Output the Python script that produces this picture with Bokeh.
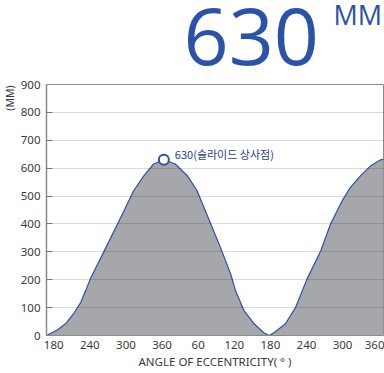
import math
from bokeh.plotting import figure
from bokeh.layouts import column, row
from bokeh.models import ColumnDataSource, Label, FixedTicker, Range1d
from bokeh.embed import file_html
from bokeh.resources import INLINE

# ---- data ----
angle_deg = [168, 186, 200, 213, 225, 233, 241, 263, 286, 296, 313, 330, 346, 363,
             382, 402, 418, 441, 457, 474, 482, 496, 513, 529, 538, 546, 565, 582,
             601, 624, 640, 660, 673, 690, 707, 723, 728]
stroke_mm = [0, 20, 43, 78, 119, 161, 204, 299, 400, 444, 520, 573, 615, 630,
             615, 573, 520, 400, 316, 221, 161, 90, 42, 10, 0, 10, 42, 101,
             203, 305, 400, 486, 531, 573, 609, 630, 632]
tick_pos = [180, 240, 300, 360, 420, 480, 540, 600, 660, 720]
tick_labels = ["180", "240", "300", "360", "60", "120", "180", "240", "300", "360"]
y_ticks = [0, 100, 200, 300, 400, 500, 600, 700, 800, 900]
peak_angle = [363]
peak_value = [630]
peak_text = "630(슬라이드 상사점)"
big_value = "630"
big_unit = "MM"
y_title = "(MM)"
x_title = "ANGLE OF ECCENTRICITY( ° )"

BLUE = "#2a52a8"
FILL = "#a6a7ab"
TXT = "#3a3a3a"
AX = "#8a8a8a"


def blank(w, h, xr, yr):
    f = figure(width=w, height=h, output_backend="svg", toolbar_location=None,
               x_axis_location=None, y_axis_location=None, min_border=0,
               x_range=xr, y_range=yr)
    f.grid.visible = False
    f.outline_line_color = None
    f.background_fill_color = "white"
    f.border_fill_color = "white"
    return f


# ---- headline (page-pixel coordinates, y downwards) ----
head = blank(384, 76, Range1d(0, 384), Range1d(76, 0))
head.add_layout(Label(x=183, y=36, text=big_value,
                      text_align="left", text_baseline="alphabetic",
                      text_font="Open Sans", text_font_size="79px", text_color=BLUE))
head.add_layout(Label(x=333, y=14, text=big_unit,
                      text_align="left", text_baseline="alphabetic",
                      text_font="Open Sans", text_font_size="27px", text_color=BLUE))

# ---- rotated y title strip ----
strip = blank(16, 297, Range1d(0, 16), Range1d(373, 76))
strip.add_layout(Label(x=9.5, y=107, text=y_title,
                       angle=math.pi / 2, text_align="left", text_baseline="middle",
                       text_font="Noto Sans", text_font_size="10.5px", text_color=TXT))

# ---- main chart ----
src = ColumnDataSource(dict(x=angle_deg, y=stroke_mm, y0=[0] * len(angle_deg)))

p = figure(width=368, height=297, output_backend="svg", toolbar_location=None,
           x_range=Range1d(168, 728), y_range=Range1d(0, 900),
           min_border_left=30, min_border_right=1, min_border_top=8, min_border_bottom=38)

p.varea(x="x", y1="y0", y2="y", source=src, fill_color=FILL)
p.line(x="x", y="y", source=src, line_color=BLUE, line_width=1.2)
p.scatter(x=peak_angle, y=peak_value, size=10, fill_color="white",
          line_color=BLUE, line_width=2)

p.add_layout(Label(x=peak_angle[0], y=peak_value[0], text=peak_text, x_offset=11, y_offset=6,
                   text_baseline="middle", text_font="Noto Sans CJK KR", text_font_size="11px",
                   text_color="#233f8f"))

p.xaxis.ticker = FixedTicker(ticks=tick_pos)
p.xaxis.major_label_overrides = {t: l for t, l in zip(tick_pos, tick_labels)}
p.xaxis.major_tick_line_color = None
p.xaxis.major_tick_out = 0
p.xaxis.major_tick_in = 0
p.xaxis.minor_tick_line_color = None
p.xaxis.minor_tick_out = 0
p.xaxis.axis_line_color = AX
p.xaxis.major_label_standoff = 5
p.xaxis.major_label_text_font = "Noto Sans"
p.xaxis.major_label_text_font_size = "11.5px"
p.xaxis.major_label_text_color = TXT
p.xaxis.axis_label = x_title
p.xaxis.axis_label_text_font = "Noto Sans"
p.xaxis.axis_label_text_font_size = "11.5px"
p.xaxis.axis_label_text_font_style = "normal"
p.xaxis.axis_label_text_color = TXT
p.xaxis.axis_label_standoff = 2

p.yaxis.ticker = FixedTicker(ticks=y_ticks)
p.yaxis.major_tick_in = 6
p.yaxis.major_tick_out = 0
p.yaxis.minor_tick_out = 0
p.yaxis.major_tick_line_color = AX
p.yaxis.minor_tick_line_color = None
p.yaxis.axis_line_color = AX
p.yaxis.axis_line_width = 1.5
p.yaxis.major_label_standoff = 6
p.yaxis.major_label_text_font = "Noto Sans"
p.yaxis.major_label_text_font_size = "11.5px"
p.yaxis.major_label_text_color = TXT

p.xgrid.grid_line_color = None
p.ygrid.grid_line_color = "black"
p.ygrid.grid_line_alpha = 0.14
p.ygrid.level = "overlay"

p.outline_line_color = AX
p.outline_line_width = 1
p.background_fill_color = "white"
p.border_fill_color = "white"

layout = column(head, row(strip, p, spacing=0), spacing=0)

open("out.html", "w").write(file_html(layout, INLINE))
